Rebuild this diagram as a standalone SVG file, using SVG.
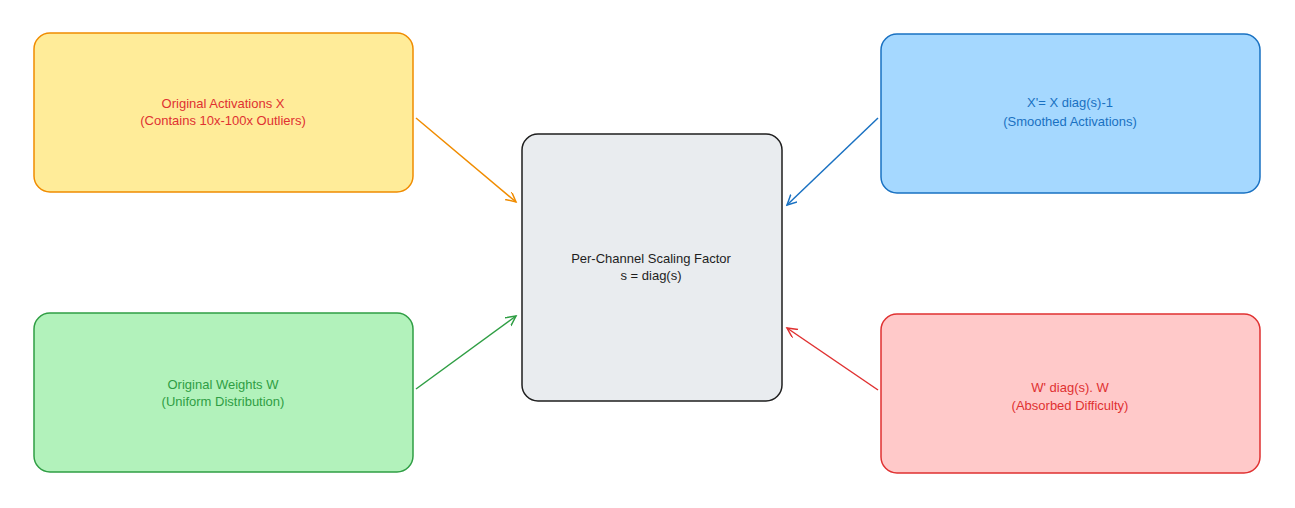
<svg xmlns="http://www.w3.org/2000/svg" width="1295" height="508" viewBox="0 0 1295 508">
<defs>
<style>
text{font-family:"Liberation Sans",sans-serif;font-size:13px;text-anchor:middle}
.b{stroke-width:1.5}
</style>
<marker id="ao" markerWidth="12" markerHeight="12" refX="10" refY="5" orient="auto" markerUnits="userSpaceOnUse"><path d="M0,0 L10,5 L0,10" fill="none" stroke="#f08c00" stroke-width="1.5"/></marker>
<marker id="ag" markerWidth="12" markerHeight="12" refX="10" refY="5" orient="auto" markerUnits="userSpaceOnUse"><path d="M0,0 L10,5 L0,10" fill="none" stroke="#2f9e44" stroke-width="1.5"/></marker>
<marker id="ab" markerWidth="12" markerHeight="12" refX="10" refY="5" orient="auto" markerUnits="userSpaceOnUse"><path d="M0,0 L10,5 L0,10" fill="none" stroke="#1971c2" stroke-width="1.5"/></marker>
<marker id="ar" markerWidth="12" markerHeight="12" refX="10" refY="5" orient="auto" markerUnits="userSpaceOnUse"><path d="M0,0 L10,5 L0,10" fill="none" stroke="#e03131" stroke-width="1.5"/></marker>
</defs>
<rect width="1295" height="508" fill="#fff"/>
<g id="orig-act"><rect class="b" x="34" y="33" width="379" height="159" rx="16" fill="#ffec99" stroke="#f08c00"/><text fill="#e03131"><tspan x="223" y="108">Original Activations X</tspan><tspan x="223" y="125">(Contains 10x-100x Outliers)</tspan></text></g>
<g id="orig-w"><rect class="b" x="34" y="313" width="379" height="159" rx="16" fill="#b2f2bb" stroke="#2f9e44"/><text fill="#2f9e44"><tspan x="223" y="389">Original Weights W</tspan><tspan x="223" y="406">(Uniform Distribution)</tspan></text></g>
<g id="scale"><rect class="b" x="522" y="134" width="260" height="267" rx="16" fill="#e9ecef" stroke="#1e1e1e"/><text fill="#1e1e1e"><tspan x="651" y="263">Per-Channel Scaling Factor</tspan><tspan x="651" y="280">s = diag(s)</tspan></text></g>
<g id="smooth-act"><rect class="b" x="881" y="34" width="379" height="159" rx="16" fill="#a5d8ff" stroke="#1971c2"/><text fill="#1971c2"><tspan x="1070" y="107">X'= X diag(s)-1</tspan><tspan x="1070" y="126">(Smoothed Activations)</tspan></text></g>
<g id="smooth-w"><rect class="b" x="881" y="314" width="379" height="159" rx="16" fill="#ffc9c9" stroke="#e03131"/><text fill="#e03131"><tspan x="1070" y="392">W' diag(s). W</tspan><tspan x="1070" y="410">(Absorbed Difficulty)</tspan></text></g>
<g id="connectors" fill="none" stroke-width="1.5">
<line x1="416" y1="118" x2="516" y2="202" stroke="#f08c00" marker-end="url(#ao)"/>
<line x1="416" y1="389" x2="516" y2="316" stroke="#2f9e44" marker-end="url(#ag)"/>
<line x1="878" y1="118" x2="787" y2="205" stroke="#1971c2" marker-end="url(#ab)"/>
<line x1="878" y1="390" x2="787" y2="328" stroke="#e03131" marker-end="url(#ar)"/>
</g>
</svg>
